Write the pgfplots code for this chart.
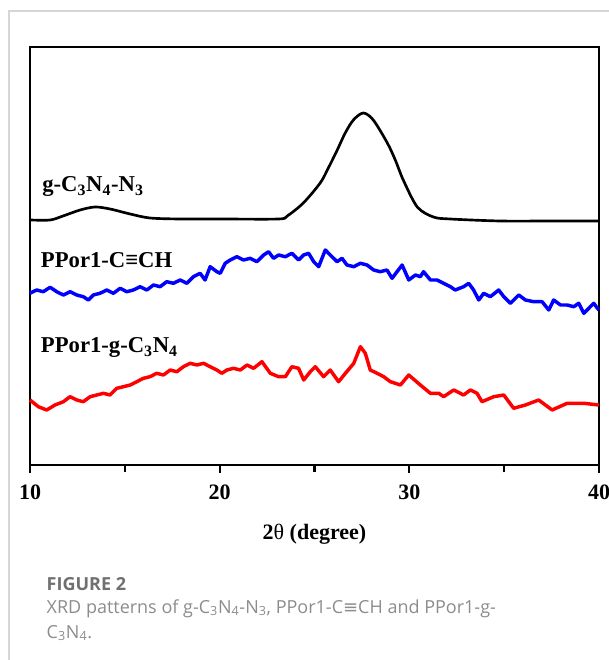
\documentclass[border=0pt]{standalone}
\usepackage{fontspec}
\setmainfont{Liberation Serif}
\newfontfamily\capfont{Open Sans}
\newfontfamily\symfont{DejaVu Sans}
\usepackage{pgfplots}
\pgfplotsset{compat=1.18}

% 1 px of the reference = 0.75pt
\definecolor{xblue}{RGB}{0,0,255}
\definecolor{xred}{RGB}{255,0,0}
\definecolor{framegray}{RGB}{214,214,214}
\definecolor{figgray}{RGB}{112,112,112}
\definecolor{capgray}{RGB}{140,140,140}

\begin{document}
\begin{tikzpicture}
\useasboundingbox (-22.5pt,-146.25pt) rectangle (434.25pt,348.75pt);
\draw[framegray, line width=0.9pt] (434.25pt,340.5pt) -- (-15.75pt,340.5pt) -- (-15.75pt,-146.25pt);
\begin{axis}[
  at={(0,0)}, anchor=south west,
  width=426.75pt, height=313.5pt, scale only axis,
  xmin=10, xmax=40, ymin=0, ymax=418,
  axis line style={line width=1.9pt},
  xtick={10,20,30,40},
  minor xtick={15,25,35},
  ytick=\empty,
  tick align=outside,
  xtick pos=bottom,
  major tick length=6pt, minor tick length=5.5pt,
  every tick/.style={black, line width=1.6pt},
  /pgf/number format/assume math mode=true,
  tick label style={font=\fontsize{16.5}{18}\selectfont\bfseries},
  xticklabel style={yshift=-5pt},
  xlabel={\bfseries 2\mdseries θ\bfseries\ (degree)},
  label style={font=\fontsize{16.5}{18}\selectfont},
  xlabel style={at={(axis description cs:0.5,0)}, anchor=base, yshift=-55.5pt},
  clip=false,
]
\addplot[black, line width=2pt, smooth] coordinates {
  (10.00,245) (11.06,245) (11.74,249) (12.64,255) (13.43,258) (14.22,256)
  (15.28,251) (16.33,247) (17.92,246) (20.03,246) (23.09,246) (23.56,249)
  (24.41,262) (25.30,282) (25.73,297) (26.20,315) (26.62,332) (27.05,345)
  (27.57,352) (28.10,345) (28.84,322) (29.26,305) (29.68,285) (30.42,258)
  (31.27,248) (32.16,246) (34.80,244) (37.44,244) (40.00,244)
};
\addplot[xblue, line width=2.6pt, line join=round] coordinates {
  (10.00,171.7) (10.35,175) (10.70,173.3) (11.06,177.7) (11.41,173.3) (11.76,170)
  (12.11,173.3) (12.46,170) (12.81,168.3) (13.08,165) (13.34,170) (13.69,171.7)
  (14.05,175) (14.40,171.7) (14.75,176.7) (15.10,173.3) (15.45,175) (15.80,178.3)
  (16.16,175) (16.51,180) (16.86,178.3) (17.21,183.3) (17.56,181.7) (17.92,185)
  (18.27,181.7) (18.62,188.3) (18.97,191.7) (19.23,185) (19.50,198.3) (19.85,193.3)
  (20.03,191.7) (20.29,201.7) (20.56,205) (20.91,208.3) (21.26,205) (21.61,206.7)
  (21.96,203.3) (22.32,210) (22.58,213.3) (22.84,206.7) (23.11,210) (23.46,208.3)
  (23.81,211.7) (24.16,205) (24.43,210) (24.69,211.7) (24.96,203.3) (25.22,198.3)
  (25.57,215) (25.92,208.3) (26.19,203.3) (26.45,206.7) (26.71,200) (27.07,198.3)
  (27.42,201.7) (27.77,200) (28.12,195) (28.47,193.3) (28.82,195) (29.09,186.7)
  (29.62,200) (29.97,185) (30.32,190) (30.58,188.3) (30.75,193.3) (31.11,185)
  (31.46,185) (31.81,181.7) (32.16,178.3) (32.42,175) (32.86,178.3) (33.13,181.7)
  (33.39,175) (33.66,165) (33.92,171.7) (34.27,168.3) (34.71,175) (34.98,168.3)
  (35.33,161.7) (35.77,170) (36.12,165) (36.56,163.3) (37.00,163.3) (37.35,155)
  (37.61,165) (37.97,160) (38.32,160) (38.67,158.3) (38.93,161.7) (39.20,151.7)
  (39.72,161.7) (39.99,155)
};
\addplot[xred, line width=2.6pt, line join=round] coordinates {
  (10.00,65) (10.44,58.3) (10.88,55) (11.32,60) (11.76,63.3) (12.11,68.3)
  (12.46,65) (12.81,63.3) (13.17,68.3) (13.52,70) (13.87,71.7) (14.22,70)
  (14.57,76.7) (14.93,78.3) (15.28,80) (15.63,83.3) (15.98,86.7) (16.33,88.3)
  (16.68,91.7) (17.04,90) (17.39,95) (17.74,93.3) (18.09,98.3) (18.44,101.7)
  (18.80,100) (19.15,101.7) (19.50,98.3) (19.85,95) (20.11,91.7) (20.38,95)
  (20.73,96.7) (21.09,95) (21.44,100) (21.79,96.7) (22.23,103.3) (22.67,91.7)
  (23.11,88.3) (23.46,88.3) (23.81,98.3) (24.16,96.7) (24.43,85) (24.78,93.3)
  (25.04,98.3) (25.48,88.3) (25.83,95) (26.27,83.3) (26.63,91.7) (27.07,101.7)
  (27.42,118.3) (27.68,111.7) (27.94,95) (28.30,91.7) (28.65,88.3) (29.00,83.3)
  (29.53,80) (29.97,90) (30.58,80) (31.11,71.7) (31.55,71.7) (31.81,68.3)
  (32.34,75) (32.86,70) (33.22,75) (33.57,71.7) (33.83,63.3) (34.45,68.3)
  (34.98,70) (35.50,56.7) (36.12,60) (36.82,65) (37.53,55) (38.32,61.7)
  (39.20,61.7) (39.99,60)
};
\node[anchor=base west, font=\fontsize{17}{19}\selectfont\bfseries] at (axis cs:10.40,273)
  {g-C\textsubscript{3}N\textsubscript{4}-N\textsubscript{3}};
\node[anchor=base west, font=\fontsize{17}{19}\selectfont\bfseries] at (axis cs:10.33,197)
  {PPor1-C≡CH};
\node[anchor=base west, font=\fontsize{17}{19}\selectfont\bfseries] at (axis cs:10.33,112)
  {PPor1-g-C\textsubscript{3}N\textsubscript{4}};
\end{axis}
\node[anchor=base west, figgray, font=\capfont\bfseries\fontsize{13.5}{16}\selectfont] at (9pt,-93.75pt) {FIGURE 2};
\node[anchor=base west, capgray, font=\capfont\fontsize{13.5}{16}\selectfont] at (9pt,-111pt)
  {XRD patterns of g-C\textsubscript{3}N\textsubscript{4}-N\textsubscript{3}, PPor1-C{\symfont ≡}CH and PPor1-g-};
\node[anchor=base west, capgray, font=\capfont\fontsize{13.5}{16}\selectfont] at (9pt,-129.75pt)
  {C\textsubscript{3}N\textsubscript{4}.};
\end{tikzpicture}
\end{document}
